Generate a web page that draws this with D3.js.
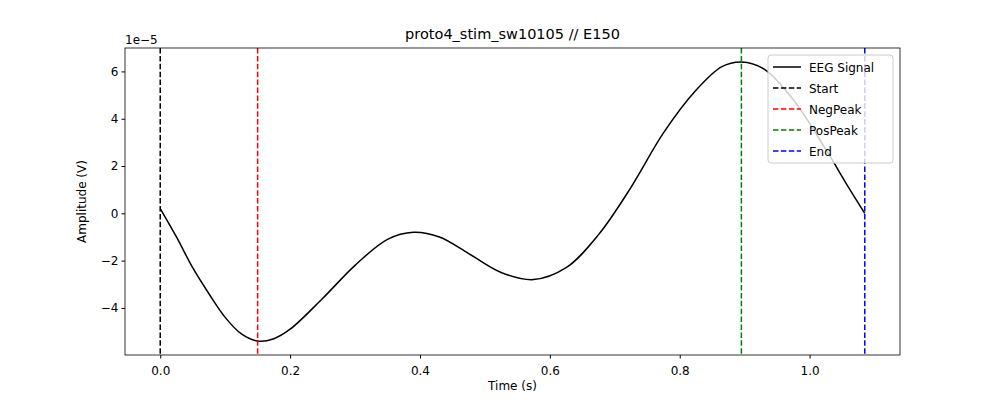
<!DOCTYPE html>
<html><head><meta charset="utf-8">
<script src="https://cdn.jsdelivr.net/npm/d3@7"></script>
<style>body{margin:0;background:#fff}text{font-family:"DejaVu Sans",sans-serif}</style>
</head><body><svg id="c" width="1000" height="400"></svg>
<script>
const times = [0,0.025,0.05,0.075,0.1,0.125,0.15,0.175,0.2,0.25,0.3,0.35,0.39,0.43,0.475,0.525,0.575,0.625,0.675,0.725,0.775,0.825,0.865,0.895,0.93,0.975,1.025,1.06,1.085]
const amps = [0.2,-1.0,-2.3,-3.4,-4.4,-5.1,-5.4,-5.3,-4.9,-3.6,-2.2,-1.1,-0.8,-1.0,-1.7,-2.5,-2.8,-2.3,-0.9,1.1,3.4,5.2,6.2,6.4,6.1,4.8,2.7,1.1,0.0]
const markers = [
  {name:'Start', t:0, color:'black'},
  {name:'NegPeak', t:0.15, color:'red'},
  {name:'PosPeak', t:0.895, color:'green'},
  {name:'End', t:1.085, color:'blue'}
]
const xTicks = [0,0.2,0.4,0.6,0.8,1.0]
const yTicks = [-4,-2,0,2,4,6]

const svg = d3.select('#c')
const L=125, R=900, T=48, B=355
const x = d3.scaleLinear().domain([-0.05425,1.13925]).range([L,R])
const y = d3.scaleLinear().domain([-5.99,6.99]).range([B,T])

const line = d3.line().x((d,i)=>x(times[i])).y(d=>y(d)).curve(d3.curveCatmullRom)
svg.append('path').datum(amps).attr('d',line).attr('fill','none').attr('stroke','black').attr('stroke-width',1.5)

markers.forEach(m=>{
  svg.append('line').attr('x1',x(m.t)).attr('x2',x(m.t)).attr('y1',T).attr('y2',B)
    .attr('stroke',m.color).attr('stroke-width',1.5).attr('stroke-dasharray','5.5,2.4')
})

svg.append('rect').attr('x',L).attr('y',T).attr('width',R-L).attr('height',B-T)
  .attr('fill','none').attr('stroke','black').attr('stroke-width',0.8)

const gx = svg.append('g').attr('transform',`translate(0,${B})`)
  .call(d3.axisBottom(x).tickValues(xTicks).tickFormat(d3.format('.1f')).tickSize(3.5).tickSizeOuter(0))
const gy = svg.append('g').attr('transform',`translate(${L},0)`)
  .call(d3.axisLeft(y).tickValues(yTicks).tickFormat(d=>d<0?'\u2212'+(-d):d).tickSize(3.5).tickSizeOuter(0))
;[gx,gy].forEach(g=>{g.select('.domain').remove();g.selectAll('text').attr('font-size',12).attr('fill','black')})
gx.selectAll('text').attr('dy','1.1em')

svg.append('text').attr('x',(L+R)/2).attr('y',39).attr('text-anchor','middle').attr('font-size',14.5).text('proto4_stim_sw10105 // E150')
svg.append('text').attr('x',(L+R)/2).attr('y',390).attr('text-anchor','middle').attr('font-size',12).text('Time (s)')
svg.append('text').attr('transform',`translate(86,${(T+B)/2}) rotate(-90)`).attr('text-anchor','middle').attr('font-size',12).text('Amplitude (V)')
svg.append('text').attr('x',L).attr('y',44).attr('font-size',12).text('1e\u22125')

const leg = svg.append('g').attr('transform','translate(768,55)')
leg.append('rect').attr('width',125).attr('height',108).attr('rx',3).attr('fill','white').attr('fill-opacity',0.8).attr('stroke','#ccc')
const items=[{name:'EEG Signal',color:'black',dash:null}].concat(markers.map(m=>({name:m.name,color:m.color,dash:'5.5,2.4'})))
items.forEach((it,i)=>{
  const yy=12+i*21
  leg.append('line').attr('x1',5).attr('x2',33).attr('y1',yy).attr('y2',yy).attr('stroke',it.color).attr('stroke-width',1.5).attr('stroke-dasharray',it.dash)
  leg.append('text').attr('x',41).attr('y',yy+4.5).attr('font-size',12).text(it.name)
})
</script></body></html>
